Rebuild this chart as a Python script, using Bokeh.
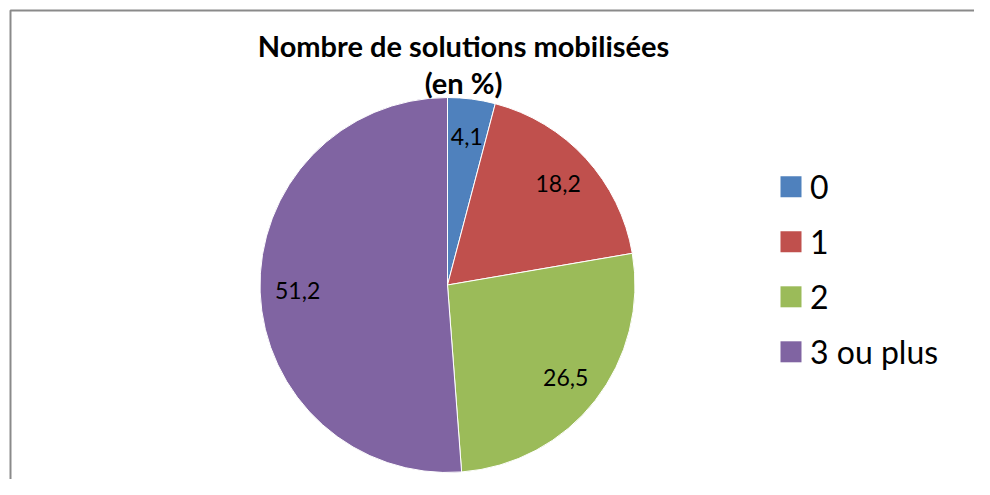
import math
from bokeh.plotting import figure
from bokeh.models import ColumnDataSource, Range1d
from bokeh.core.properties import value
from bokeh.embed import file_html
from bokeh.resources import INLINE

# ---- data ----
categories = ["0", "1", "2", "3 ou plus"]
percentages = [4.1, 18.2, 26.5, 51.2]
value_labels = ["4,1", "18,2", "26,5", "51,2"]
colors = ["#4F81BD", "#C0504D", "#9BBB59", "#8064A2"]
title_lines = ["Nombre de solutions mobilisées", "(en %)"]

# ---- layout (data units == picture pixels, y flipped) ----
W, H = 974, 479
def sy(y):
    return H - y

CX, CY, R = 447, 284.5, 187.5
TITLE_X = 463
LABEL_FRAC = 0.8
FONT = "Lato"

p = figure(width=W, height=H, output_backend="svg", toolbar_location=None,
           x_range=Range1d(0, W), y_range=Range1d(0, H),
           min_border=0, x_axis_location=None, y_axis_location=None,
           background_fill_color="white", border_fill_color="white")
p.grid.visible = False
p.outline_line_color = None

# frame (left and top edges visible in the window)
p.line(x=[10, 10, 1000], y=[sy(520), sy(10), sy(10)], line_color="#8a8a8a", line_width=2)

# pie
total = sum(percentages)
starts, ends, mids = [], [], []
cum = 0.0
for v in percentages:
    a0 = math.pi / 2 - 2 * math.pi * cum / total
    cum += v
    a1 = math.pi / 2 - 2 * math.pi * cum / total
    starts.append(a0)
    ends.append(a1)
    mids.append((a0 + a1) / 2)

src = ColumnDataSource(dict(start=starts, end=ends, color=colors))
p.wedge(x=CX, y=sy(CY), radius=R, start_angle="start", end_angle="end",
        direction="clock", fill_color="color", line_color="white", line_width=1,
        source=src)

# value labels
lx = [CX + LABEL_FRAC * R * math.cos(m) for m in mids]
ly = [sy(CY) + LABEL_FRAC * R * math.sin(m) for m in mids]
p.text(x=lx, y=ly, text=value_labels, text_font=value(FONT), text_font_size="23px",
       text_color="#000000", text_align="center", text_baseline="middle")

# title
p.text(x=[TITLE_X, TITLE_X], y=[sy(45), sy(82)], text=title_lines, text_font=value(FONT),
       text_font_size="29px", text_font_style="bold", text_color="#000000",
       text_align="center", text_baseline="middle")

# legend
LEG_X, LEG_Y0, LEG_DY, SQ = 790.5, 186.3, 55, 21
leg_y = [sy(LEG_Y0 + i * LEG_DY) for i in range(len(categories))]
p.rect(x=[LEG_X] * len(categories), y=leg_y, width=SQ, height=SQ,
       fill_color=colors, line_color=None)
p.text(x=[LEG_X + 19] * len(categories), y=leg_y, text=categories,
       text_font=value(FONT), text_font_size="32px", text_color="#000000",
       text_align="left", text_baseline="middle")

open("out.html", "w").write(file_html(p, INLINE))
